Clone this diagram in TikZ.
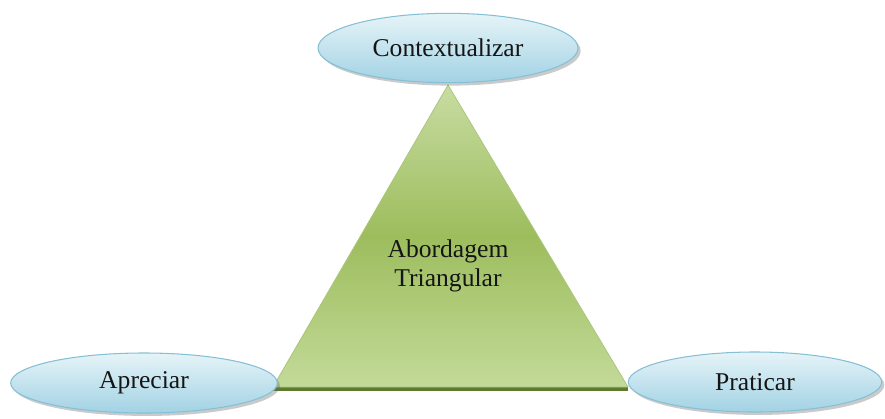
\documentclass[tikz,border=0pt]{standalone}
\usepackage{fontspec}
\setmainfont{Liberation Serif}
\usetikzlibrary{shapes.geometric,shadows}
\definecolor{ellTop}{HTML}{E6F4F8}
\definecolor{ellBot}{HTML}{A2D2E4}
\definecolor{ellEdge}{HTML}{86C0D6}
\definecolor{triTop}{HTML}{C8DCA2}
\definecolor{triMid}{HTML}{9DBD5D}
\definecolor{triBot}{HTML}{C3DA99}
\definecolor{triEdge}{HTML}{A9C77A}
\definecolor{triBase}{HTML}{5E7A2E}
\definecolor{txt}{HTML}{151515}
\tikzset{
  ellbox/.style={ellipse, draw=ellEdge, line width=0.8pt, top color=ellTop, bottom color=ellBot,
    inner sep=0pt, text=txt, font=\fontsize{19.2}{21.75}\selectfont,
    drop shadow={shadow xshift=2pt, shadow yshift=-2.2pt, opacity=0.35, fill=black!60}},
  lbl/.style={text=txt, font=\fontsize{19.2}{21.75}\selectfont, align=center, inner sep=0pt}
}
\begin{document}
\begin{tikzpicture}[x=0.75pt,y=-0.75pt]
\useasboundingbox (0,0) rectangle (885,418);
% triangle
\coordinate (apex) at (448,85);
\coordinate (bl) at (273,387);
\coordinate (br) at (628,387);
\draw[triBase, line width=3pt] ([yshift=-1.2pt]bl) -- ([yshift=-1.2pt]br);
\shade[top color=triTop, bottom color=triBot, middle color=triMid] (apex) -- (br) -- (bl) -- cycle;
\draw[triEdge, line width=0.6pt, line join=miter] (apex) -- (br) -- (bl) -- cycle;
\node[lbl] (tri) at (448,266) {Abordagem\\Triangular};
% ellipses
\node[ellbox, minimum width=195pt, minimum height=52pt] (ctx) at (448,48) {Contextualizar};
\node[ellbox, minimum width=200pt, minimum height=45pt] (apr) at (144,383) {Apreciar};
\node[ellbox, minimum width=190pt, minimum height=45pt] (pra) at (755,382) {Praticar};
\end{tikzpicture}
\end{document}
